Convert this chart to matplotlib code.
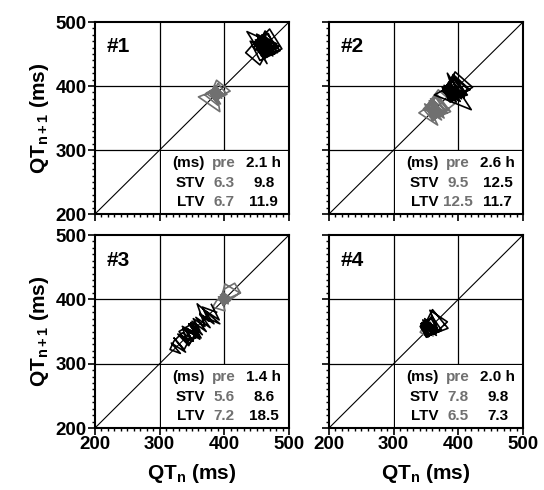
import matplotlib
matplotlib.use("Agg")
import matplotlib.pyplot as plt
from matplotlib.patches import Rectangle
from matplotlib.ticker import MultipleLocator

plt.rcParams['font.family'] = ['Liberation Sans', 'DejaVu Sans']
plt.rcParams['font.weight'] = 'bold'
plt.rcParams['axes.labelweight'] = 'bold'
plt.rcParams['mathtext.fontset'] = 'custom'
plt.rcParams['mathtext.rm'] = 'Liberation Sans:bold'
plt.rcParams['mathtext.it'] = 'Liberation Sans:bold'
plt.rcParams['mathtext.bf'] = 'Liberation Sans:bold'

GREY = "#707070"

# beat-to-beat QT series (ms), plotted as QT[n] vs QT[n+1]
pre_1 = [388, 396, 381, 392, 384, 399, 386, 377, 391, 395, 383, 390, 404, 387, 380, 394,
         372, 389, 398, 385, 391, 379, 388, 409, 392, 384, 395, 382, 390, 370, 386, 397,
         388, 393, 360, 383, 392, 386, 400, 384, 390, 381, 394, 387, 391]
post_1 = [458, 475, 447, 468, 482, 452, 463, 486, 455, 440, 470, 460, 478, 450, 466, 435,
          485, 462, 448, 472, 458, 480, 465, 445, 460, 476, 452, 470, 489, 458, 446, 467,
          455, 433, 452, 474, 462, 450, 481, 466, 455, 470, 448, 463, 478, 457, 468, 452,
          465, 475, 460]

pre_2 = [362, 378, 350, 368, 356, 374, 347, 365, 382, 358, 370, 352, 366, 388, 360, 348,
         372, 357, 380, 363, 351, 369, 394, 372, 355, 377, 361, 346, 364, 375, 354, 368,
         339, 358, 371, 353, 366, 384, 362, 349, 367, 357, 374, 360]
post_2 = [388, 405, 380, 397, 375, 392, 414, 386, 378, 401, 390, 409, 382, 395, 422, 398,
          384, 403, 376, 392, 415, 395, 383, 420, 363, 386, 399, 378, 393, 410, 387, 375,
          398, 384, 404, 390, 377, 395, 412, 388, 399, 380, 392, 418, 394, 384, 400, 389]

pre_3 = [399, 406, 393, 403, 396, 409, 398, 391, 404, 400, 394, 407, 401, 392, 399, 410,
         402, 395, 400, 416, 425, 410, 403, 396, 401, 382, 388, 398, 405, 399, 393, 403,
         397, 408, 400, 395, 401, 424, 410, 400]
post_3 = [380, 392, 368, 384, 362, 378, 356, 372, 350, 366, 345, 362, 338, 356, 348, 364,
          340, 352, 335, 358, 344, 330, 350, 362, 342, 336, 354, 345, 328, 346, 338, 322,
          340, 318, 332, 316, 322, 335, 348, 340, 356, 346, 362, 352, 370, 358, 393, 362,
          376, 366, 388, 380]

pre_4 = [354, 346, 361, 343, 357, 349, 364, 346, 353, 341, 349, 360, 345, 356, 365, 350,
         343, 358, 348, 361, 352]
post_4 = [352, 366, 344, 360, 348, 370, 350, 342, 362, 355, 345, 368, 349, 359, 374, 352,
          343, 363, 347, 367, 356, 383, 365, 348, 360, 384, 355, 344, 364, 351, 341, 358,
          370, 350, 345, 362, 349, 366, 354, 342, 357, 363, 348, 356]

names = ["#1", "#2", "#3", "#4"]
pre_series = [pre_1, pre_2, pre_3, pre_4]
post_series = [post_1, post_2, post_3, post_4]
hours = ["2.1 h", "2.6 h", "1.4 h", "2.0 h"]
stv_pre = ["6.3", "9.5", "5.6", "7.8"]
stv_post = ["9.8", "12.5", "8.6", "9.8"]
ltv_pre = ["6.7", "12.5", "7.2", "6.5"]
ltv_post = ["11.9", "11.7", "18.5", "7.3"]

W, H = 544, 490
# axes boxes in pixels: left, top, right, bottom
boxes = [(95, 22, 289, 214), (329, 22, 523, 214),
         (95, 235, 289, 428), (329, 235, 523, 428)]


def poincare(ax, qt, color):
    ax.plot(qt[:-1], qt[1:], color=color, lw=1.2, zorder=3)


def draw_panel(i):
    l, t, r, b = boxes[i]
    ax = fig.add_axes([l / W, 1 - b / H, (r - l) / W, (b - t) / H])
    ax.set_xlim(200, 500)
    ax.set_ylim(200, 500)
    ax.set_xticks([200, 300, 400, 500])
    ax.set_yticks([200, 300, 400, 500])
    ax.xaxis.set_minor_locator(MultipleLocator(10))
    ax.yaxis.set_minor_locator(MultipleLocator(10))
    ax.tick_params(which='major', direction='out', length=5, width=1.2, labelsize=13.5, pad=1)
    ax.tick_params(which='minor', direction='out', length=2.5, width=1.0)
    for s in ax.spines.values():
        s.set_linewidth(1.5)

    for v in (300, 400):
        ax.axvline(v, color='black', lw=0.9, zorder=1)
        ax.axhline(v, color='black', lw=0.9, zorder=1)
    ax.plot([200, 500], [200, 500], color='black', lw=0.8, zorder=1)

    # white box behind the table
    ax.add_patch(Rectangle((302, 201), 197, 97, facecolor='white', edgecolor='none', zorder=2))

    poincare(ax, pre_series[i], GREY)
    poincare(ax, post_series[i], 'black')

    ax.text(0.06, 0.87, names[i], transform=ax.transAxes, fontsize=15,
            ha='left', va='center', fontweight='bold')

    rows = [("(ms)", "pre", hours[i]),
            ("STV", stv_pre[i], stv_post[i]),
            ("LTV", ltv_pre[i], ltv_post[i])]
    for k, (a, p, q) in enumerate(rows):
        y = 0.265 - k * 0.102
        ax.text(0.567, y, a, transform=ax.transAxes, fontsize=11, ha='right', va='center', zorder=4)
        ax.text(0.665, y, p, transform=ax.transAxes, fontsize=11, ha='center', va='center',
                color=GREY, zorder=4)
        ax.text(0.87, y, q, transform=ax.transAxes, fontsize=11, ha='center', va='center', zorder=4)

    for lab in ax.get_xticklabels() + ax.get_yticklabels():
        lab.set_fontweight('bold')

    if i in (0, 2):
        ax.set_ylabel("QT$_\\mathrm{n+1}$ (ms)", fontsize=15, fontweight='bold', labelpad=3)
    else:
        ax.set_yticklabels([])
    if i in (2, 3):
        ax.set_xlabel("QT$_\\mathrm{n}$ (ms)", fontsize=15, fontweight='bold', labelpad=6)
    else:
        ax.set_xticklabels([])
    return ax


fig = plt.figure(figsize=(5.44, 4.9), dpi=100)
for i in range(4):
    draw_panel(i)

fig.savefig("out.png", dpi=100)
